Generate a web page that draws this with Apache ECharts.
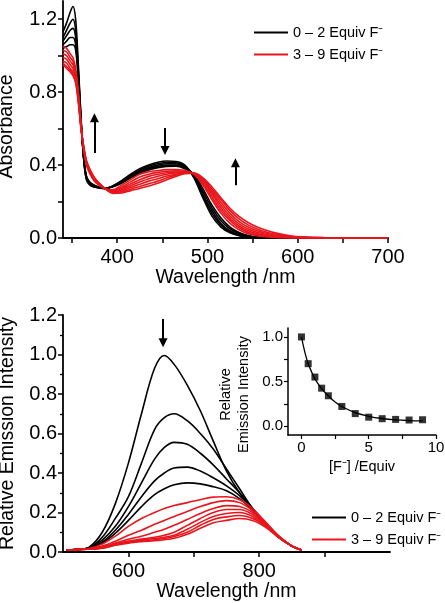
<!DOCTYPE html>
<html><head><meta charset="utf-8">
<script src="https://cdn.jsdelivr.net/npm/echarts@6/dist/echarts.min.js"></script>
<style>html,body{margin:0;padding:0;background:#fff}#c{width:445px;height:603px}</style>
</head><body><div id="c"></div><script>
// ---------- Data: absorbance (top panel) ----------
const absWl = [340,344,348,351,354,357,360,363,366,370,375,380,387,395,405,415,425,435,445,455,465,475,485,495,505,515,525,535,545,555,565,575,590,605,630,700];
const absB0 = [1.13,1.18,1.24,1.27,1.20,0.95,0.66,0.43,0.32,0.29,0.28,0.275,0.272, 0.285,0.315,0.35,0.38,0.40,0.415,0.422,0.42,0.40,0.33,0.22,0.12,0.06,0.028,0.012,0.005,0.002,0.001,0,0,0,0,0];
const absB1 = [1.10,1.14,1.18,1.20,1.14,0.92,0.65,0.43,0.32,0.29,0.28,0.275,0.272, 0.285,0.312,0.345,0.373,0.393,0.407,0.414,0.413,0.395,0.335,0.23,0.135,0.07,0.033,0.015,0.007,0.003,0.001,0,0,0,0,0];
const absB2 = [1.08,1.11,1.14,1.15,1.10,0.90,0.64,0.43,0.33,0.295,0.283,0.277,0.272, 0.283,0.308,0.34,0.366,0.386,0.40,0.407,0.407,0.39,0.34,0.24,0.15,0.08,0.04,0.018,0.008,0.003,0.001,0,0,0,0,0];
const absB3 = [1.06,1.08,1.10,1.10,1.06,0.88,0.63,0.44,0.335,0.30,0.286,0.278,0.272, 0.282,0.305,0.335,0.36,0.38,0.393,0.40,0.40,0.385,0.345,0.255,0.165,0.095,0.05,0.024,0.011,0.004,0.001,0,0,0,0,0];
const absB4 = [1.04,1.05,1.06,1.06,1.03,0.86,0.62,0.44,0.34,0.305,0.29,0.28,0.272, 0.28,0.30,0.33,0.355,0.373,0.386,0.393,0.394,0.38,0.35,0.27,0.18,0.11,0.06,0.03,0.014,0.006,0.002,0.001,0,0,0,0];
const absR3 = [1.05,1.04,1.01,0.99,0.93,0.80,0.62,0.48,0.40,0.35,0.31,0.29,0.27, 0.265,0.29,0.32,0.35,0.363,0.37,0.375,0.376,0.37,0.35,0.29,0.21,0.135,0.08,0.045,0.024,0.013,0.007,0.003,0.001,0,0,0];
const absR4 = [1.03,1.02,0.99,0.97,0.91,0.79,0.62,0.48,0.405,0.355,0.315,0.29,0.27, 0.26,0.28,0.308,0.335,0.35,0.36,0.366,0.368,0.366,0.35,0.30,0.225,0.15,0.095,0.056,0.032,0.018,0.01,0.005,0.002,0.001,0,0];
const absR5 = [1.01,1.00,0.97,0.95,0.90,0.78,0.61,0.49,0.41,0.36,0.32,0.295,0.27, 0.255,0.272,0.297,0.32,0.338,0.35,0.358,0.362,0.362,0.352,0.31,0.24,0.165,0.107,0.066,0.04,0.024,0.014,0.008,0.003,0.001,0,0];
const absR6 = [0.99,0.98,0.95,0.93,0.88,0.77,0.61,0.49,0.415,0.365,0.32,0.295,0.27, 0.252,0.265,0.287,0.307,0.325,0.338,0.35,0.357,0.36,0.353,0.315,0.25,0.18,0.12,0.077,0.049,0.031,0.019,0.011,0.005,0.002,0.001,0];
const absR7 = [0.97,0.96,0.93,0.91,0.87,0.76,0.60,0.49,0.42,0.37,0.325,0.30,0.27, 0.25,0.258,0.277,0.295,0.312,0.325,0.34,0.35,0.357,0.354,0.32,0.26,0.195,0.135,0.09,0.06,0.04,0.026,0.016,0.007,0.003,0.001,0];
const absR8 = [0.96,0.94,0.92,0.90,0.86,0.75,0.60,0.50,0.42,0.37,0.33,0.30,0.27, 0.247,0.252,0.268,0.283,0.298,0.312,0.33,0.345,0.355,0.355,0.325,0.27,0.21,0.15,0.105,0.072,0.05,0.033,0.022,0.01,0.004,0.001,0];
const absR9 = [0.95,0.93,0.91,0.89,0.85,0.74,0.60,0.50,0.425,0.375,0.33,0.30,0.27, 0.245,0.247,0.26,0.272,0.285,0.30,0.32,0.338,0.352,0.356,0.33,0.28,0.22,0.163,0.118,0.085,0.06,0.042,0.028,0.014,0.006,0.002,0];

// ---------- Data: emission (bottom panel) ----------
const emWl = [505,520,540,560,580,600,620,640,655,670,690,710,730,750,770,790,810,830,850,865];
const emB0 = [0.01,0.012,0.025,0.10,0.245,0.45,0.70,0.93,0.995,0.95,0.845,0.715,0.56,0.41,0.30,0.22,0.14,0.075,0.03,0.01];
const emB1 = [0.01,0.012,0.022,0.075,0.17,0.28,0.45,0.62,0.68,0.70,0.665,0.60,0.52,0.42,0.32,0.22,0.14,0.075,0.03,0.01];
const emB2 = [0.01,0.012,0.02,0.06,0.13,0.23,0.35,0.47,0.53,0.555,0.545,0.50,0.44,0.37,0.30,0.22,0.14,0.075,0.03,0.01];
const emB3 = [0.01,0.012,0.02,0.05,0.11,0.19,0.28,0.36,0.40,0.425,0.43,0.41,0.375,0.335,0.285,0.215,0.14,0.075,0.03,0.01];
const emB4 = [0.01,0.012,0.02,0.045,0.095,0.16,0.23,0.29,0.32,0.34,0.35,0.345,0.33,0.31,0.27,0.21,0.14,0.075,0.03,0.01];
const emR3 = [0.01,0.012,0.018,0.04,0.08,0.13,0.17,0.20,0.22,0.235,0.25,0.265,0.278,0.28,0.265,0.22,0.15,0.08,0.03,0.01];
const emR4 = [0.01,0.012,0.016,0.03,0.055,0.085,0.11,0.14,0.16,0.18,0.205,0.23,0.25,0.26,0.25,0.21,0.15,0.08,0.03,0.01];
const emR5 = [0.01,0.012,0.016,0.025,0.045,0.065,0.08,0.10,0.115,0.135,0.165,0.195,0.22,0.235,0.23,0.20,0.145,0.08,0.03,0.01];
const emR6 = [0.01,0.012,0.015,0.022,0.04,0.055,0.065,0.075,0.085,0.10,0.135,0.17,0.20,0.215,0.215,0.19,0.14,0.078,0.03,0.01];
const emR7 = [0.01,0.012,0.015,0.02,0.038,0.05,0.06,0.068,0.075,0.085,0.115,0.15,0.18,0.195,0.20,0.18,0.135,0.076,0.03,0.01];
const emR8 = [0.01,0.012,0.015,0.02,0.036,0.048,0.056,0.062,0.068,0.078,0.10,0.135,0.165,0.178,0.185,0.17,0.13,0.074,0.03,0.01];
const emR9 = [0.01,0.012,0.015,0.019,0.034,0.045,0.052,0.057,0.062,0.07,0.09,0.12,0.148,0.16,0.17,0.16,0.125,0.072,0.03,0.01];

// ---------- Data: inset (relative emission vs equiv F-) ----------
const equiv = [0,0.5,1,1.5,2,3,4,5,6,7,8,9];
const relEm = [1.0,0.70,0.55,0.425,0.34,0.22,0.14,0.10,0.083,0.075,0.068,0.071];
const fitX = [0,0.25,0.5,0.75,1,1.5,2,2.5,3,4,5,6,7,8,9];
const fitY = [1.0,0.83,0.70,0.61,0.53,0.42,0.34,0.27,0.22,0.15,0.11,0.085,0.07,0.062,0.058];

// ---------- Tick labels ----------
const absXLabels = [400,500,600,700];
const absXTicks = [350,400,450,500,550,600,650,700];
const absYLabels = [0,0.4,0.8,1.2];
const absYTicks = [0,0.2,0.4,0.6,0.8,1.0,1.2];
const emXLabels = [600,800];
const emXTicks = [600,700,800,900];
const insXLabels = [0,5,10];
const insXTicks = [0,2.5,5,7.5,10];
const insYLabels = [0,0.5,1.0];
const insYTicks = [0,0.25,0.5,0.75,1.0];

// ---------- Arrow annotations (data coords) ----------
const absArrows = [[374.8,0.466,374.8,0.66],[453,0.603,453,0.48],[531,0.29,531,0.413]];
const emArrows = [[653,1.18,653,1.06]];

const LB = '0 \u2013 2 Equiv F\u207B';
const LR = '3 \u2013 9 Equiv F\u207B';
const BLACK = '#000000';
const RED = '#e8161c';
const FONT = '"Liberation Sans", Arial, sans-serif';

const pairs = (xs, ys) => xs.map((x, i) => [x, ys[i]]);

function lineSeries(name, color, xs, ys, gi) {
  return {
    type: 'line', name, xAxisIndex: gi, yAxisIndex: gi,
    data: pairs(xs, ys), smooth: 0.35, symbol: 'none',
    lineStyle: { color, width: 1.6 }, itemStyle: { color },
    emphasis: { disabled: true }, silent: true
  };
}
function arrowMark(list) {
  return {
    silent: true, symbol: ['none', 'triangle'], symbolSize: 9,
    label: { show: false }, emphasis: { disabled: true },
    lineStyle: { color: '#000', width: 2, type: 'solid' },
    itemStyle: { color: '#000' },
    data: list.map(a => [{ coord: [a[0], a[1]] }, { coord: [a[2], a[3]] }])
  };
}

const axisBase = (fs) => ({
  axisLine: { show: true, onZero: false, lineStyle: { color: '#000', width: 1.8 } },
  axisTick: { show: true, inside: false, length: 5, lineStyle: { color: '#000', width: 1.5 } },
  splitLine: { show: false },
  axisLabel: { color: '#000', fontSize: fs, fontFamily: FONT },
  nameTextStyle: { color: '#000', fontFamily: FONT }
});

const series = [];
[absB0, absB1, absB2, absB3, absB4].forEach(d => series.push(lineSeries(LB, BLACK, absWl, d, 0)));
[absR3, absR4, absR5, absR6, absR7, absR8, absR9].forEach(d => series.push(lineSeries(LR, RED, absWl, d, 0)));
series[0].markLine = arrowMark(absArrows);
const emStart = series.length;
[emB0, emB1, emB2, emB3, emB4].forEach(d => series.push(lineSeries(LB, BLACK, emWl, d, 1)));
[emR3, emR4, emR5, emR6, emR7, emR8, emR9].forEach(d => series.push(lineSeries(LR, RED, emWl, d, 1)));
series[emStart].markLine = arrowMark(emArrows);
series.push({
  type: 'line', name: 'fit', xAxisIndex: 2, yAxisIndex: 2, data: pairs(fitX, fitY),
  smooth: 0.4, symbol: 'none', lineStyle: { color: '#000', width: 1.3 }, silent: true
});
series.push({
  type: 'scatter', name: 'relative', xAxisIndex: 2, yAxisIndex: 2, data: pairs(equiv, relEm),
  symbol: 'rect', symbolSize: 7, itemStyle: { color: '#000' }, silent: true
});

const legendBase = {
  data: [LB, LR], orient: 'vertical', icon: 'rect', itemWidth: 34, itemHeight: 2,
  itemGap: 7, selectedMode: false,
  textStyle: { color: '#000', fontSize: 14.5, fontFamily: FONT }
};

const gridBase = { containLabel: false, outerBoundsMode: 'none' };

const option = {
  animation: false,
  backgroundColor: '#fff',
  legend: [
    Object.assign({}, legendBase, { left: 249, top: 20 }),
    Object.assign({}, legendBase, { left: 307, top: 505 })
  ],
  grid: [
    Object.assign({ left: 63, top: 1, width: 325, height: 237 }, gridBase),
    Object.assign({ left: 63, top: 315, width: 327, height: 237 }, gridBase),
    Object.assign({ left: 288, top: 328, width: 148, height: 107 }, gridBase)
  ],
  xAxis: [
    Object.assign(axisBase(20), {
      type: 'value', gridIndex: 0, min: 340, max: 700,
      name: 'Wavelength /nm', nameLocation: 'middle', nameGap: 21,
      nameTextStyle: { color: '#000', fontFamily: FONT, fontSize: 19.5 },
      axisTick: { show: true, length: 5, customValues: absXTicks, lineStyle: { color: '#000', width: 1.5 } },
      axisLabel: { color: '#000', fontSize: 20, fontFamily: FONT, margin: 9, customValues: absXLabels }
    }),
    Object.assign(axisBase(20), {
      type: 'value', gridIndex: 1, min: 500, max: 1000,
      name: 'Wavelength /nm', nameLocation: 'middle', nameGap: 22,
      nameTextStyle: { color: '#000', fontFamily: FONT, fontSize: 19.5 },
      axisTick: { show: true, length: 5, customValues: emXTicks, lineStyle: { color: '#000', width: 1.5 } },
      axisLabel: { color: '#000', fontSize: 20, fontFamily: FONT, margin: 9, customValues: emXLabels }
    }),
    Object.assign(axisBase(14), {
      type: 'value', gridIndex: 2, min: -1, max: 10,
      name: '[F\u207B] /Equiv', nameLocation: 'middle', nameGap: 24,
      nameTextStyle: { color: '#000', fontFamily: FONT, fontSize: 14.5 },
      axisLine: { show: true, onZero: false, lineStyle: { color: '#000', width: 1.5 } },
      axisTick: { show: true, length: 4, customValues: insXTicks, lineStyle: { color: '#000', width: 1.2 } },
      axisLabel: { color: '#000', fontSize: 15, fontFamily: FONT, margin: 5, customValues: insXLabels }
    })
  ],
  yAxis: [
    Object.assign(axisBase(20), {
      type: 'value', gridIndex: 0, min: 0, max: 1.3,
      name: 'Absorbance', nameLocation: 'middle', nameGap: 46,
      nameTextStyle: { color: '#000', fontFamily: FONT, fontSize: 19.5, padding: [0, 14, 0, 0] },
      axisTick: { show: true, length: 5, customValues: absYTicks, lineStyle: { color: '#000', width: 1.5 } },
      axisLabel: { color: '#000', fontSize: 20, fontFamily: FONT, margin: 6, customValues: absYLabels,
        formatter: v => v.toFixed(1) }
    }),
    Object.assign(axisBase(20), {
      type: 'value', gridIndex: 1, min: 0, max: 1.2, interval: 0.2,
      name: 'Relative Emission Intensity', nameLocation: 'middle', nameGap: 45,
      nameTextStyle: { color: '#000', fontFamily: FONT, fontSize: 19.5 },
      minorTick: { show: true, splitNumber: 2, length: 3, lineStyle: { color: '#000', width: 1.3 } },
      axisLabel: { color: '#000', fontSize: 20, fontFamily: FONT, margin: 6, formatter: v => v.toFixed(1) }
    }),
    Object.assign(axisBase(14), {
      type: 'value', gridIndex: 2, min: -0.1, max: 1.1,
      name: 'Relative\nEmission Intensity', nameLocation: 'middle', nameGap: 35,
      nameTextStyle: { color: '#000', fontFamily: FONT, fontSize: 14.5, lineHeight: 18, padding: [0, 26, 0, 0] },
      axisLine: { show: true, onZero: false, lineStyle: { color: '#000', width: 1.5 } },
      axisTick: { show: true, length: 4, customValues: insYTicks, lineStyle: { color: '#000', width: 1.2 } },
      axisLabel: { color: '#000', fontSize: 15, fontFamily: FONT, margin: 5, customValues: insYLabels,
        formatter: v => v.toFixed(1) }
    })
  ],
  series
};

const chart = echarts.init(document.getElementById('c'), null, { renderer: 'canvas' });
chart.setOption(option);
</script></body></html>
